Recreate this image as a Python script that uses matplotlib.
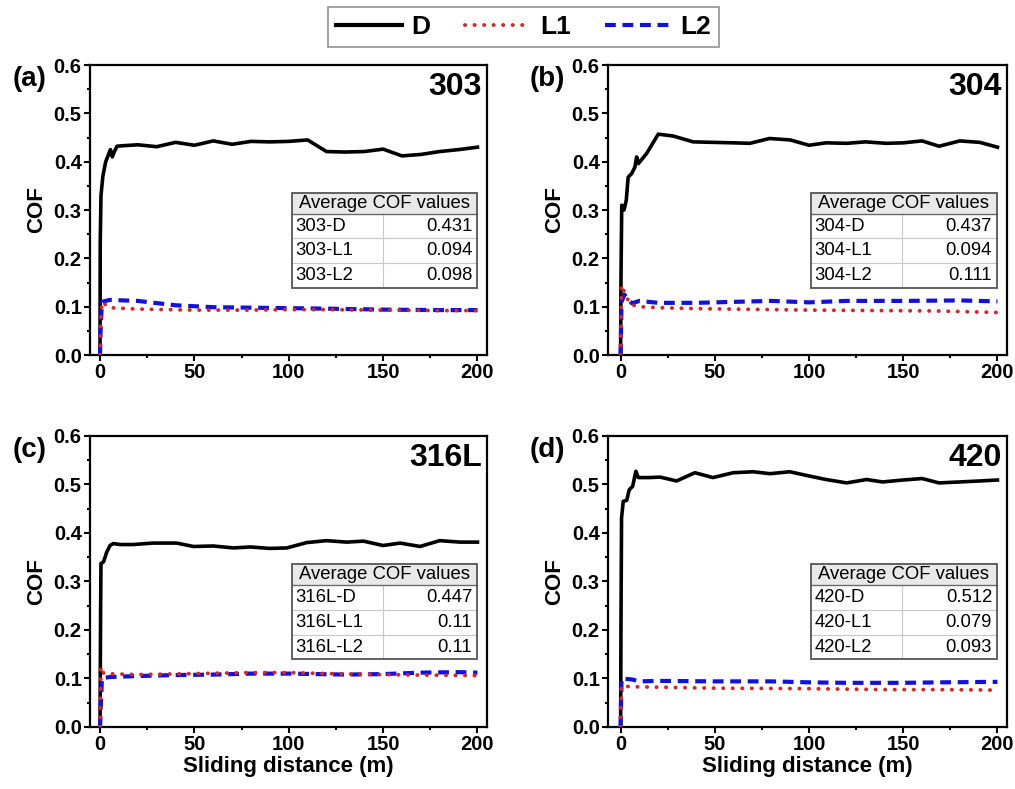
import matplotlib
matplotlib.use("Agg")
import matplotlib.pyplot as plt
from matplotlib.lines import Line2D
from matplotlib.patches import Rectangle
from matplotlib.ticker import MultipleLocator, FormatStrFormatter

plt.rcParams['font.family'] = ['Liberation Sans', 'DejaVu Sans']

# ---- data ----
panel_tags = ["(a)", "(b)", "(c)", "(d)"]
alloys = ["303", "304", "316L", "420"]
avg_cof = [
    ["0.431", "0.094", "0.098"],
    ["0.437", "0.094", "0.111"],
    ["0.447", "0.11", "0.11"],
    ["0.512", "0.079", "0.093"],
]

# 303
d_303_x = [0, 0.1, 0.5, 1.5, 3, 4.5, 5.5, 6.5, 7.5, 9, 12, 20, 30, 40, 50, 60, 70, 80, 90, 100,
           110, 120, 130, 140, 150, 160, 170, 180, 190, 200]
d_303_y = [0, 0.23, 0.33, 0.37, 0.40, 0.415, 0.425, 0.41, 0.42, 0.432, 0.433, 0.435, 0.431, 0.44,
           0.434, 0.443, 0.436, 0.442, 0.441, 0.442, 0.445, 0.421, 0.42, 0.421, 0.426, 0.412, 0.415,
           0.421, 0.425, 0.43]
l1_303_x = [0, 0.3, 1, 5, 20, 50, 80, 100, 120, 150, 180, 200]
l1_303_y = [0, 0.06, 0.11, 0.098, 0.095, 0.093, 0.093, 0.094, 0.094, 0.093, 0.092, 0.092]
l2_303_x = [0, 0.3, 1, 5, 20, 40, 60, 80, 100, 120, 150, 180, 200]
l2_303_y = [0, 0.05, 0.11, 0.114, 0.112, 0.103, 0.099, 0.098, 0.097, 0.096, 0.094, 0.093, 0.093]

# 304
d_304_x = [0, 0.2, 0.6, 1.8, 3, 4, 5.8, 7.6, 8.5, 9.4, 13.8, 20, 28, 38.5, 49, 60, 68.6, 79, 90,
           100, 109, 120, 130, 141, 150, 160, 169, 180, 190.6, 200]
d_304_y = [0, 0.16, 0.31, 0.30, 0.32, 0.368, 0.375, 0.389, 0.41, 0.396, 0.417, 0.457, 0.453, 0.441,
           0.44, 0.439, 0.438, 0.448, 0.445, 0.434, 0.439, 0.438, 0.441, 0.438, 0.439, 0.443, 0.432,
           0.443, 0.44, 0.43]
l1_304_x = [0, 0.5, 2, 5, 10, 20, 40, 60, 80, 100, 140, 170, 200]
l1_304_y = [0, 0.145, 0.13, 0.105, 0.1, 0.098, 0.096, 0.095, 0.094, 0.093, 0.092, 0.091, 0.088]
l2_304_x = [0, 0.5, 2, 6, 10, 20, 40, 60, 80, 100, 120, 150, 180, 200]
l2_304_y = [0, 0.11, 0.125, 0.107, 0.112, 0.108, 0.108, 0.11, 0.112, 0.109, 0.112, 0.112, 0.113,
            0.111]

# 316L
d_316_x = [0, 0.3, 0.5, 1.8, 2.7, 3.5, 5.3, 7, 10.6, 17.7, 28, 40.6, 49.5, 60, 70.7, 79.5, 90, 99,
           109.5, 120, 130.7, 139.6, 150, 159, 169.6, 180, 190.8, 200]
d_316_y = [0, 0.238, 0.337, 0.34, 0.35, 0.36, 0.374, 0.378, 0.376, 0.376, 0.379, 0.379, 0.372,
           0.373, 0.369, 0.371, 0.368, 0.369, 0.38, 0.384, 0.381, 0.383, 0.374, 0.379, 0.372, 0.384,
           0.381, 0.381]
l1_316_x = [0, 0.5, 2, 20, 50, 80, 100, 120, 150, 170, 200]
l1_316_y = [0, 0.124, 0.11, 0.108, 0.11, 0.112, 0.112, 0.11, 0.108, 0.107, 0.106]
l2_316_x = [0, 1, 5, 20, 40, 60, 80, 100, 130, 150, 170, 190, 200]
l2_316_y = [0, 0.1, 0.103, 0.105, 0.107, 0.108, 0.11, 0.11, 0.108, 0.109, 0.112, 0.113, 0.112]

# 420
d_420_x = [0, 0.2, 0.5, 1.4, 3.2, 4.6, 6.4, 8.1, 9.4, 15.6, 20.9, 29.7, 39.4, 49, 59.8, 70.4, 79.2,
           89.8, 100.4, 109, 120, 130.5, 139, 150, 160, 169, 180, 190.6, 200]
d_420_y = [0, 0.214, 0.431, 0.465, 0.467, 0.489, 0.496, 0.527, 0.514, 0.514, 0.515, 0.507, 0.524,
           0.514, 0.524, 0.526, 0.522, 0.526, 0.517, 0.51, 0.503, 0.51, 0.505, 0.509, 0.512, 0.503,
           0.505, 0.507, 0.509]
l1_420_x = [0, 0.5, 5, 20, 50, 100, 140, 170, 200]
l1_420_y = [0, 0.085, 0.083, 0.082, 0.08, 0.079, 0.077, 0.077, 0.076]
l2_420_x = [0, 0.5, 6, 10, 20, 50, 80, 100, 120, 150, 170, 200]
l2_420_y = [0, 0.1, 0.098, 0.094, 0.095, 0.094, 0.094, 0.092, 0.091, 0.091, 0.092, 0.093]

series = [
    (d_303_x, d_303_y, l1_303_x, l1_303_y, l2_303_x, l2_303_y),
    (d_304_x, d_304_y, l1_304_x, l1_304_y, l2_304_x, l2_304_y),
    (d_316_x, d_316_y, l1_316_x, l1_316_y, l2_316_x, l2_316_y),
    (d_420_x, d_420_y, l1_420_x, l1_420_y, l2_420_x, l2_420_y),
]

RED = "#dd2222"
BLUE = "#1010e0"

# axes boxes [left, bottom, width, height] in figure fractions
boxes = [
    [0.0887, 0.550, 0.391, 0.3676],
    [0.599, 0.550, 0.393, 0.3676],
    [0.0887, 0.0786, 0.391, 0.369],
    [0.599, 0.0786, 0.393, 0.369],
]
xlims = [(-5.3, 205), (-6.7, 205), (-5.3, 205), (-6.7, 205)]


def draw_table(ax, alloy, vals):
    x0, x1 = 0.508, 0.975
    y0, y1 = 0.232, 0.559
    xm = 0.738
    hh = 0.072
    rh = (y1 - y0 - hh) / 3
    ax.add_patch(Rectangle((x0, y1 - hh), x1 - x0, hh, transform=ax.transAxes,
                           facecolor="#e9e9e9", edgecolor="none", zorder=5))
    ax.add_patch(Rectangle((x0, y0), x1 - x0, y1 - y0 - hh, transform=ax.transAxes,
                           facecolor="white", edgecolor="none", zorder=5))
    # inner grid
    for i in range(1, 3):
        yy = y0 + i * rh
        ax.plot([x0, x1], [yy, yy], transform=ax.transAxes, color="#c8c8c8", lw=0.8, zorder=6)
    ax.plot([xm, xm], [y0, y1 - hh], transform=ax.transAxes, color="#c8c8c8", lw=0.8, zorder=6)
    ax.plot([x0, x1], [y1 - hh, y1 - hh], transform=ax.transAxes, color="#6a6a6a", lw=1.0, zorder=6)
    ax.add_patch(Rectangle((x0, y0), x1 - x0, y1 - y0, transform=ax.transAxes,
                           facecolor="none", edgecolor="#555555", lw=1.3, zorder=7))
    ax.text((x0 + x1) / 2, y1 - hh / 2, "Average COF values", transform=ax.transAxes,
            ha="center", va="center", fontsize=13.3, zorder=8)
    names = [alloy + "-D", alloy + "-L1", alloy + "-L2"]
    for i in range(3):
        yc = y1 - hh - (i + 0.5) * rh
        ax.text(x0 + 0.01, yc, names[i], transform=ax.transAxes, ha="left", va="center",
                fontsize=13.3, zorder=8)
        ax.text(x1 - 0.012, yc, vals[i], transform=ax.transAxes, ha="right", va="center",
                fontsize=13.3, zorder=8)


fig = plt.figure(figsize=(10.15, 7.89), dpi=100)

for k in range(4):
    ax = fig.add_axes(boxes[k])
    dx, dy, l1x, l1y, l2x, l2y = series[k]
    ax.plot(dx, dy, color="black", lw=2.6, solid_joinstyle="round", zorder=3)
    ax.plot(l2x, l2y, color=BLUE, lw=3.0, dashes=(2.6, 1.6), zorder=3)
    ax.plot(l1x, l1y, color=RED, lw=2.8, linestyle=(0, (0.05, 2.4)), dash_capstyle="round", zorder=4)

    ax.set_xlim(*xlims[k])
    ax.set_ylim(0, 0.6)
    ax.xaxis.set_major_locator(MultipleLocator(50))
    ax.xaxis.set_minor_locator(MultipleLocator(25))
    ax.yaxis.set_major_locator(MultipleLocator(0.1))
    ax.yaxis.set_minor_locator(MultipleLocator(0.05))
    ax.yaxis.set_major_formatter(FormatStrFormatter("%.1f"))
    ax.tick_params(which="both", direction="out", top=False, right=False, width=1.5)
    ax.tick_params(which="major", length=4.5, labelsize=14.5, pad=1.5)
    ax.tick_params(which="minor", length=2.5)
    for lab in ax.get_xticklabels() + ax.get_yticklabels():
        lab.set_fontweight("bold")
    for sp in ax.spines.values():
        sp.set_linewidth(1.6)

    ax.set_ylabel("COF", fontsize=16, fontweight="bold", labelpad=5)
    if k >= 2:
        ax.set_xlabel("Sliding distance (m)", fontsize=16, fontweight="bold", labelpad=1)

    ax.text(-0.196, 0.995, panel_tags[k], transform=ax.transAxes, ha="left", va="top",
            fontsize=20, fontweight="bold")
    ax.text(0.988, 0.975, alloys[k], transform=ax.transAxes, ha="right", va="top",
            fontsize=23, fontweight="bold")

    draw_table(ax, alloys[k], avg_cof[k])

handles = [
    Line2D([], [], color="black", lw=3.0),
    Line2D([], [], color=RED, lw=2.8, linestyle=(0, (0.05, 2.4)), dash_capstyle="round"),
    Line2D([], [], color=BLUE, lw=3.0, dashes=(2.6, 1.6)),
]
leg = fig.legend(handles, ["D", "L1", "L2"], loc="center", bbox_to_anchor=(0.516, 0.966),
                 ncol=3, frameon=True, fancybox=False, edgecolor="#777777", handlelength=2.5,
                 columnspacing=1.3, handletextpad=0.35, borderpad=0.3, borderaxespad=0,
                 prop={"weight": "bold", "size": 19})
leg.get_frame().set_linewidth(1.2)

fig.savefig("out.png", dpi=100)
